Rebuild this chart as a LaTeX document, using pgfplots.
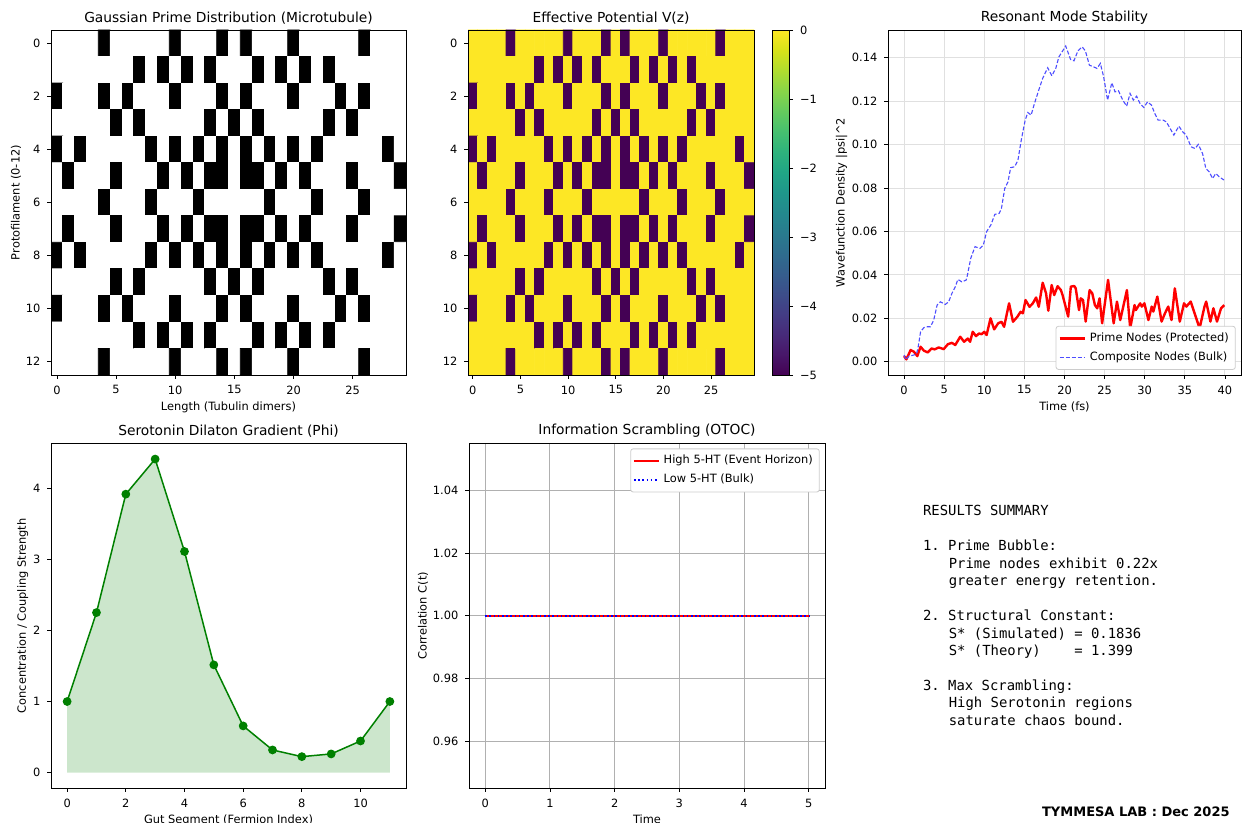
\documentclass[border=0pt]{standalone}
\usepackage{fontspec}
\setmainfont{DejaVu Sans}
\newfontfamily\monofont{DejaVu Sans Mono}
\usepackage{pgfplots}
\pgfplotsset{compat=1.18}
\usepackage{pgfplotstable}

\definecolor{mplgreen}{RGB}{0,128,0}
\definecolor{mplblue}{RGB}{77,77,255}
\definecolor{gridgray}{RGB}{176,176,176}
\definecolor{legedge}{RGB}{204,204,204}

\newcommand\tickfont{\fontsize{5.7}{6.6}\selectfont}
\newcommand\titlefont{\fontsize{6.9}{8}\selectfont}

\pgfplotsset{
  every axis/.append style={
    scale only axis, tick align=outside, major tick length=1.8pt,
    tick style={black, line width=0.4pt},
    axis line style={line width=0.4pt},
    ticklabel style={font=\tickfont},
    label style={font=\tickfont},
    title style={font=\titlefont, yshift=-0.5pt},
    xlabel style={yshift=3pt},
    ylabel style={yshift=-4.5pt},
    /pgf/number format/assume math mode=true,
  },
  panel/.style={anchor=south west, tick pos=left},
  mpllegend/.style={
    legend style={font=\tickfont, draw=legedge, rounded corners=1.2pt,
      inner sep=1.2pt, row sep=-0.5pt, cells={anchor=west}},
    legend image code/.code={\draw[##1] (0pt,0pt) -- (12.5pt,0pt);}},
  every axis title/.style={at={(0.5,1)}, above},
}

% Gaussian primes on the 13 x 30 grid (1 = prime), rows 0..12, x varies
\pgfplotstableread[row sep=\\]{
p\\
0\\0\\0\\0\\1\\0\\0\\0\\0\\0\\1\\0\\0\\0\\1\\0\\1\\0\\0\\0\\1\\0\\0\\0\\0\\0\\1\\0\\0\\0\\
0\\0\\0\\0\\0\\0\\0\\1\\0\\1\\0\\1\\0\\1\\0\\0\\0\\1\\0\\1\\0\\1\\0\\1\\0\\0\\0\\0\\0\\0\\
1\\0\\0\\0\\1\\0\\1\\0\\0\\0\\1\\0\\0\\0\\1\\0\\1\\0\\0\\0\\1\\0\\0\\0\\1\\0\\1\\0\\0\\0\\
0\\0\\0\\0\\0\\1\\0\\1\\0\\0\\0\\0\\0\\1\\0\\1\\0\\1\\0\\0\\0\\0\\0\\1\\0\\1\\0\\0\\0\\0\\
1\\0\\1\\0\\0\\0\\0\\0\\1\\0\\1\\0\\1\\0\\1\\0\\1\\0\\1\\0\\1\\0\\1\\0\\0\\0\\0\\0\\1\\0\\
0\\1\\0\\0\\0\\1\\0\\0\\0\\1\\0\\1\\0\\1\\1\\0\\1\\1\\0\\1\\0\\1\\0\\0\\0\\1\\0\\0\\0\\1\\
0\\0\\0\\0\\1\\0\\0\\0\\1\\0\\0\\0\\1\\0\\0\\0\\0\\0\\1\\0\\0\\0\\1\\0\\0\\0\\1\\0\\0\\0\\
0\\1\\0\\0\\0\\1\\0\\0\\0\\1\\0\\1\\0\\1\\1\\0\\1\\1\\0\\1\\0\\1\\0\\0\\0\\1\\0\\0\\0\\1\\
1\\0\\1\\0\\0\\0\\0\\0\\1\\0\\1\\0\\1\\0\\1\\0\\1\\0\\1\\0\\1\\0\\1\\0\\0\\0\\0\\0\\1\\0\\
0\\0\\0\\0\\0\\1\\0\\1\\0\\0\\0\\0\\0\\1\\0\\1\\0\\1\\0\\0\\0\\0\\0\\1\\0\\1\\0\\0\\0\\0\\
1\\0\\0\\0\\1\\0\\1\\0\\0\\0\\1\\0\\0\\0\\1\\0\\1\\0\\0\\0\\1\\0\\0\\0\\1\\0\\1\\0\\0\\0\\
0\\0\\0\\0\\0\\0\\0\\1\\0\\1\\0\\1\\0\\1\\0\\0\\0\\1\\0\\1\\0\\1\\0\\1\\0\\0\\0\\0\\0\\0\\
0\\0\\0\\0\\1\\0\\0\\0\\0\\0\\1\\0\\0\\0\\1\\0\\1\\0\\0\\0\\1\\0\\0\\0\\0\\0\\1\\0\\0\\0\\
}\primegrid

\begin{document}
\frenchspacing
\begin{tikzpicture}
\useasboundingbox (0,0) rectangle (621pt,411.5pt);

% ---- panel 1: prime map
\begin{axis}[panel, at={(25.5pt,224pt)}, width=177.5pt, height=172.5pt,
  xmin=-0.5, xmax=29.5, ymin=-0.5, ymax=12.5, y dir=reverse, axis on top,
  xtick={0,5,...,25}, ytick={0,2,...,12},
  colormap={bw}{color=(white) color=(black)}, point meta min=0, point meta max=1,
  title={Gaussian Prime Distribution (Microtubule)},
  xlabel={Length (Tubulin dimers)}, ylabel={Protofilament (0-12)}]
\addplot[matrix plot*, mesh/cols=30, point meta=explicit]
  table[x index=0, y index=0, x expr={\coordindex-30*floor((\coordindex+0.5)/30)},
    y expr={floor((\coordindex+0.5)/30)}, meta index=0] {\primegrid};
\end{axis}

% ---- panel 2: potential
\begin{axis}[panel, at={(234pt,224pt)}, width=143pt, height=172.5pt,
  xmin=-0.5, xmax=29.5, ymin=-0.5, ymax=12.5, y dir=reverse, axis on top,
  xtick={0,5,...,25}, ytick={0,2,...,12},
  colormap name=viridis, point meta min=-5, point meta max=0,
  colorbar, colorbar shift/.style={xshift=9pt},
  colorbar style={width=8.5pt, ytick={-5,-4,-3,-2,-1,0},
    yticklabels={−5,−4,−3,−2,−1,0}, ytick pos=right, yticklabel pos=right},
  title={Effective Potential V(z)}]
\addplot[matrix plot*, mesh/cols=30, point meta=explicit]
  table[x index=0, y index=0, x expr={\coordindex-30*floor((\coordindex+0.5)/30)},
    y expr={floor((\coordindex+0.5)/30)}, meta expr={-5*\thisrowno{0}}] {\primegrid};
\end{axis}

% ---- panel 3: resonant modes
\begin{axis}[panel, mpllegend, at={(444pt,224pt)}, width=176.5pt, height=172.5pt,
  xmin=-2, xmax=42, ymin=-0.0061, ymax=0.1528,
  xtick={0,5,...,40}, ytick={0,0.02,0.04,0.06,0.08,0.1,0.12,0.14},
  scaled y ticks=false,
  yticklabel style={/pgf/number format/.cd, fixed, fixed zerofill, precision=2},
  grid=major, grid style={black!12, line width=0.5pt},
  legend style={at={(0.985,0.015)}, anchor=south east},
  title={Resonant Mode Stability},
  xlabel={Time (fs)}, ylabel={Wavefunction Density |psi|\textasciicircum 2}]
\addplot[red, line width=1.2pt, line join=round] coordinates {
(0,0.0026)(0.29,0.0011)(0.82,0.0054)(1.23,0.0046)(1.65,0.0026)(2.06,0.0069)(2.47,0.0051)
(2.96,0.0043)(3.42,0.0061)(3.83,0.0057)(4.32,0.0066)(4.94,0.0058)(5.47,0.0081)(5.97,0.0087)
(6.38,0.0077)(7.0,0.0115)(7.49,0.0092)(7.94,0.0107)(8.23,0.0092)(8.56,0.0138)(8.97,0.0118)
(9.34,0.013)(9.67,0.0127)(10.0,0.0138)(10.29,0.0123)(10.78,0.020)(11.23,0.0149)(11.73,0.0177)
(12.14,0.0184)(12.47,0.0161)(13.09,0.0269)(13.58,0.0184)(14.12,0.0207)(14.53,0.023)(14.81,0.0223)
(15.14,0.0284)(15.64,0.0253)(16.05,0.0269)(16.46,0.0296)(16.79,0.0253)(17.28,0.0364)(17.7,0.0315)
(17.98,0.0235)(18.4,0.0353)(18.72,0.0307)(19.14,0.0348)(19.55,0.033)(19.76,0.0307)(20.46,0.0208)
(20.79,0.0346)(21.2,0.0349)(21.4,0.0338)(21.81,0.0238)(22.02,0.0292)(22.31,0.0284)(22.64,0.0185)
(23.13,0.033)(23.46,0.0315)(23.79,0.0261)(24.08,0.0246)(24.37,0.0292)(24.69,0.0177)(25.43,0.0377)
(26.13,0.0177)(26.54,0.0277)(26.95,0.0192)(27.78,0.033)(28.19,0.0154)(28.73,0.0261)(28.89,0.0238)
(29.43,0.0269)(29.63,0.0254)(29.96,0.0269)(30.46,0.0192)(30.87,0.0254)(31.07,0.0231)(31.57,0.030)
(32.1,0.0185)(32.52,0.0223)(32.93,0.0254)(33.34,0.0192)(33.75,0.0338)(34.37,0.0185)(34.9,0.0269)
(35.19,0.0254)(35.73,0.0277)(36.84,0.0154)(37.45,0.0254)(37.66,0.0277)(38.19,0.0185)(38.56,0.0246)
(39.01,0.0185)(39.51,0.0246)(39.92,0.0261)};
\addplot[mplblue, line width=0.55pt, dash pattern=on 2pt off 1pt] coordinates {
(0,0.0031)(0.2,0.001)(0.62,0.0026)(1.23,0.0031)(1.56,0.0038)(1.73,0.0061)(2.06,0.0138)(2.47,0.0157)
(2.88,0.0161)(3.29,0.0161)(3.7,0.0192)(4.12,0.0261)(4.53,0.0276)(5.14,0.0264)(5.56,0.0276)(5.97,0.0315)
(6.38,0.0345)(6.71,0.0379)(7.2,0.0368)(7.74,0.0376)(7.9,0.0399)(8.31,0.0476)(8.85,0.053)(9.47,0.0522)
(9.88,0.0537)(10.29,0.0599)(10.82,0.063)(11.32,0.0679)(11.85,0.0683)(12.14,0.0706)(12.55,0.0798)
(12.96,0.0829)(13.29,0.0894)(13.79,0.0898)(14.2,0.0929)(14.61,0.1021)(15.1,0.1113)(15.43,0.1148)
(15.84,0.1136)(16.26,0.119)(16.79,0.1251)(17.28,0.1305)(17.9,0.1354)(18.42,0.1317)(18.91,0.1351)
(19.3,0.1404)(20.15,0.1454)(20.76,0.1392)(21.18,0.1386)(21.67,0.1432)(22.2,0.145)(22.6,0.1432)
(23.1,0.1366)(23.64,0.1358)(24.05,0.1351)(24.47,0.1374)(24.88,0.1312)(25.37,0.1205)(25.9,0.1285)
(26.3,0.1243)(26.73,0.1248)(27.26,0.1205)(27.75,0.1177)(28.17,0.1236)(28.58,0.1205)(28.99,0.1223)
(29.4,0.119)(29.89,0.1171)(30.35,0.1197)(30.84,0.1182)(31.25,0.1144)(31.66,0.1113)(32.28,0.1113)
(32.69,0.1105)(33.1,0.1079)(33.63,0.1044)(34.25,0.1085)(34.74,0.1059)(35.16,0.1044)(35.77,0.099)
(36.27,0.0982)(36.68,0.1001)(37.21,0.0959)(37.62,0.089)(38.03,0.0875)(38.45,0.0844)(38.86,0.0867)
(39.27,0.0852)(39.88,0.0837)};
\legend{Prime Nodes (Protected), Composite Nodes (Bulk)}
\end{axis}

% ---- panel 4: serotonin gradient
\begin{axis}[panel, at={(25.5pt,17.35pt)}, width=177.5pt, height=172.5pt,
  xmin=-0.55, xmax=11.55, ymin=-0.22, ymax=4.63,
  xtick={0,2,...,10}, ytick={0,1,2,3,4},
  title={Serotonin Dilaton Gradient (Phi)},
  xlabel={Gut Segment (Fermion Index)}, ylabel={Concentration / Coupling Strength}]
\addplot[draw=none, fill=mplgreen, fill opacity=0.2] coordinates {
(0,0)(0,1.0)(1,2.25)(2,3.915)(3,4.408)(4,3.109)(5,1.515)(6,0.657)(7,0.319)(8,0.225)(9,0.263)(10,0.445)(11,1.0)(11,0)} -- cycle;
\addplot[mplgreen, line width=0.75pt, mark=*, mark size=1.8pt, mark options={fill=mplgreen}] coordinates {
(0,1.0)(1,2.25)(2,3.915)(3,4.408)(4,3.109)(5,1.515)(6,0.657)(7,0.319)(8,0.225)(9,0.263)(10,0.445)(11,1.0)};
\end{axis}

% ---- panel 5: OTOC
\begin{axis}[panel, mpllegend, at={(234.5pt,17.35pt)}, width=178pt, height=172.5pt,
  xmin=-0.25, xmax=5.25, ymin=0.945, ymax=1.055,
  xtick={0,1,2,3,4,5}, ytick={0.96,0.98,1.00,1.02,1.04}, scaled y ticks=false,
  yticklabel style={/pgf/number format/.cd, fixed, fixed zerofill, precision=2},
  grid=major, grid style={gridgray, line width=0.42pt},
  legend style={at={(0.985,0.985)}, anchor=north east},
  title={Information Scrambling (OTOC)},
  xlabel={Time}, ylabel={Correlation C(t)}]
\addplot[red, line width=0.8pt] coordinates {(0,1)(1,1)(2,1)(3,1)(4,1)(5,1)};
\addplot[blue, line width=0.8pt, dash pattern=on 0.8pt off 1.3pt] coordinates {(0,1)(1,1)(2,1)(3,1)(4,1)(5,1)};
\legend{High 5-HT (Event Horizon), Low 5-HT (Bulk)}
\end{axis}

% ---- summary text
\begin{scope}[every node/.style={anchor=base west, inner sep=0pt,
    font=\monofont\fontsize{6.95}{8}\selectfont}]
\node at (461.35pt,153.65pt) {RESULTS SUMMARY};
\node at (461.35pt,136.15pt) {1. Prime Bubble:};
\node at (474.2pt,127.35pt) {Prime nodes exhibit 0.22x};
\node at (474.2pt,118.65pt) {greater energy retention.};
\node at (461.35pt,101.15pt) {2. Structural Constant:};
\node at (474.2pt,92.35pt) {S* (Simulated) = 0.1836};
\node at (474.2pt,83.65pt) {S* (Theory)\hphantom{xxxx}= 1.399};
\node at (461.35pt,66.15pt) {3. Max Scrambling:};
\node at (474.2pt,57.5pt) {High Serotonin regions};
\node at (474.2pt,48.65pt) {saturate chaos bound.};
\end{scope}
\node[anchor=base east, inner sep=0pt, font=\bfseries\fontsize{6.5}{7.5}\selectfont]
  at (615pt,3.15pt) {TYMMESA LAB : Dec 2025};
\end{tikzpicture}
\end{document}
